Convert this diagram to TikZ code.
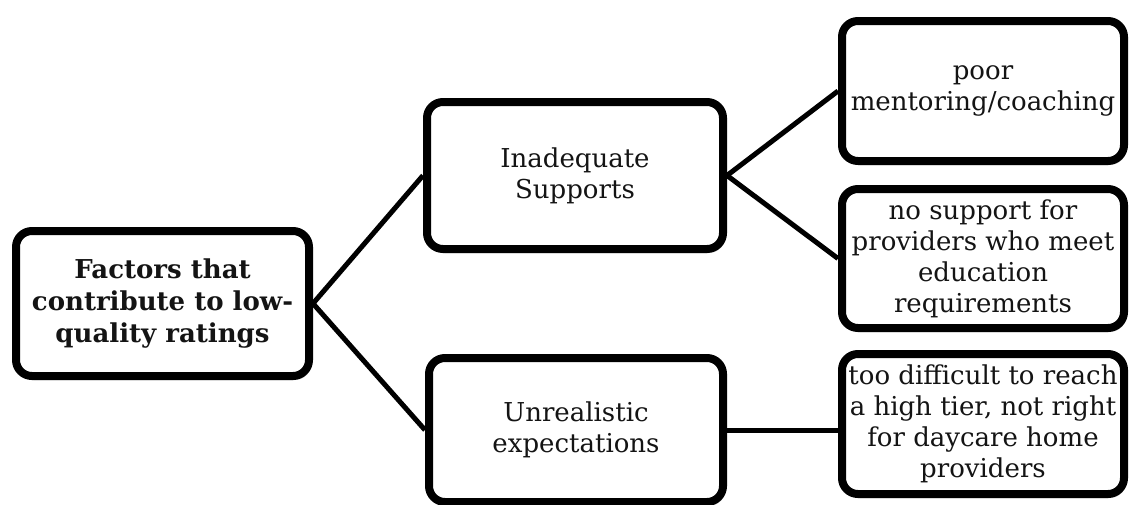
\documentclass[tikz,border=0pt]{standalone}
\usepackage{fontspec}
\setmainfont{DejaVu Serif}
\usetikzlibrary{shadows}
\definecolor{boxshadow}{rgb}{0.45,0.45,0.45}
\definecolor{boxtext}{rgb}{0.08,0.08,0.08}

\begin{document}
\begin{tikzpicture}[x=1pt, y=-1pt,
    box/.style={draw, line width=8pt, rounded corners=16pt, fill=white,
      align=center, inner sep=0pt, text=boxtext,
      font=\fontsize{26}{31}\selectfont,
      drop shadow={shadow xshift=2pt, shadow yshift=-4pt, opacity=0.35, fill=boxshadow}},
    link/.style={line width=5pt}]
        \useasboundingbox (0,0) rectangle (1130,504);
        \node[box, minimum width=293pt, minimum height=145pt,
          font=\fontsize{26}{32}\selectfont\bfseries] (root) at (162.5, 303.5)
          {Factors that\\contribute to low-\\quality ratings};
        \node[box, minimum width=296pt, minimum height=147pt] (supports) at (575, 175.5)
          {Inadequate\\Supports};
        \node[box, minimum width=294pt, minimum height=144pt] (expect) at (576, 430)
          {Unrealistic\\expectations};
        \node[box, minimum width=282pt, minimum height=140pt] (mentor) at (983, 91)
          {poor\\mentoring/coaching};
        \node[box, minimum width=282pt, minimum height=139pt] (nosupport) at (983, 258.5)
          {no support for\\providers who meet\\education\\requirements};
        \node[box, minimum width=282pt, minimum height=140pt] (tier) at (983, 424)
          {too difficult to reach\\a high tier, not right\\for daycare home\\providers};
        \draw[link] (root.east) -- (supports.west);
        \draw[link] (root.east) -- (expect.west);
        \draw[link] (supports.east) -- (mentor.west);
        \draw[link] (supports.east) -- (nosupport.west);
        \draw[link] (expect.east) -- (expect.east -| tier.west);
      \end{tikzpicture}
\end{document}
